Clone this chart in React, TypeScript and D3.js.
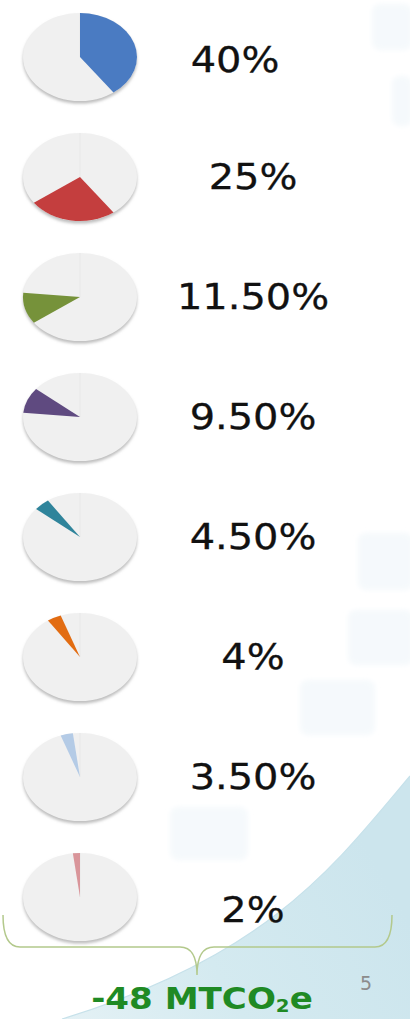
import React from "react";
import * as d3 from "d3";

const categories = ["s1", "s2", "s3", "s4", "s5", "s6", "s7", "s8"];
const shares = [40, 25, 11.5, 9.5, 4.5, 4, 3.5, 2];
const labels = ["40%", "25%", "11.50%", "9.50%", "4.50%", "4%", "3.50%", "2%"];
const sliceColors = ["#4a7bc2", "#c43e3e", "#76923a", "#5f4a80", "#2f849b", "#e26c12", "#b4cbe6", "#d9959a"];
const totalLabel = "-48 MTCO";
const pageNumber = "5";

const W = 410;
const H = 1019;

export default function App() {
  const y = d3.scalePoint<string>().domain(categories).range([57, 897]);
  const rx = 57;
  const ry = 44;
  const cx = 80;
  const pie = d3.pie<number>().sort(null).value((d) => d);
  const arc = d3.arc<d3.PieArcDatum<number>>().innerRadius(0).outerRadius(rx);
  const allArcs = pie(shares);
  const cum = d3.cumsum(shares);

  const squares = [
    [372, 4, 40, 46],
    [392, 76, 20, 50],
    [358, 533, 55, 57],
    [348, 610, 65, 55],
    [300, 680, 75, 55],
    [170, 807, 78, 53],
  ];

  return (
    <svg width={W} height={H} style={{ position: "absolute", left: 0, top: 0, display: "block" }}>
      <defs>
        <linearGradient id="bg" x1="0" y1="1" x2="1" y2="0.6">
          <stop offset="0" stopColor="#e4f1f5" />
          <stop offset="0.45" stopColor="#d4eaf0" />
          <stop offset="1" stopColor="#cce5ed" />
        </linearGradient>
        <filter id="blur" x="-20%" y="-20%" width="140%" height="140%">
          <feGaussianBlur stdDeviation="1.4" />
        </filter>
        <filter id="soft" x="-20%" y="-20%" width="140%" height="140%">
          <feGaussianBlur stdDeviation="2.5" />
        </filter>
      </defs>
      <rect width={W} height={H} fill="#ffffff" />
      {squares.map((s, i) => (
        <rect key={i} x={s[0]} y={s[1]} width={s[2]} height={s[3]} rx={8} fill="#f5f9fc" filter="url(#soft)" />
      ))}
      <path d={`M${W},776 C335,865 270,955 62,${H} L${W},${H} Z`} fill="url(#bg)" />
      <path d={`M${W},776 C335,865 270,955 62,${H}`} fill="none" stroke="#c6e1ea" strokeWidth={1.2} />

      {categories.map((c, i) => {
        const cy = y(c) as number;
        const start = i === 0 ? 0 : cum[i - 1];
        const a0 = (start / 100) * 2 * Math.PI;
        const a1 = (cum[i] / 100) * 2 * Math.PI;
        const sliceD = arc({ ...allArcs[i], startAngle: a0, endAngle: a1, padAngle: 0 } as any) as string;
        const tx = i === 0 ? 235 : 253;
        const ty = cy + (i === 7 ? 13 : i === 0 ? 3 : 0);
        return (
          <g key={c}>
            <ellipse cx={cx} cy={cy + 2.5} rx={rx} ry={ry} fill="#bdbdbd" filter="url(#blur)" />
            <g transform={`translate(${cx},${cy}) scale(1,${ry / rx})`}>
              <circle r={rx} fill="#f0f0f0" />
              <line x1={0} y1={0} x2={0} y2={-rx} stroke="#e6e6e6" strokeWidth={0.8} />
              <path d={sliceD} fill={sliceColors[i]} />
            </g>
            <text
              transform={`translate(${tx},${ty}) scale(1.14,1)`}
              textAnchor="middle"
              dominantBaseline="central"
              fontFamily="DejaVu Sans, Verdana, sans-serif"
              fontSize={35}
              fill="#111111"
              stroke="#111111"
              strokeWidth={0.3}
            >
              {labels[i]}
            </text>
          </g>
        );
      })}

      <path
        d="M3,915 Q3,947 20,947 L180,947 Q197,947 197,975 Q197,947 214,947 L375,947 Q392,947 392,915"
        fill="none"
        stroke="#b3c98c"
        strokeWidth={1.5}
      />
      <text
        transform="translate(202,1009) scale(1.1,1)"
        textAnchor="middle"
        fontFamily="DejaVu Sans, Verdana, sans-serif"
        fontWeight="bold"
        fontSize={31}
        fill="#1f8a24"
      >
        {totalLabel}
        <tspan fontSize={18} dy={3}>2</tspan>
        <tspan fontSize={31} dy={-3}>e</tspan>
      </text>
      <text x={366} y={990} textAnchor="middle" fontFamily="DejaVu Sans, sans-serif" fontSize={19} fill="#8c8c8c">
        {pageNumber}
      </text>
    </svg>
  );
}
